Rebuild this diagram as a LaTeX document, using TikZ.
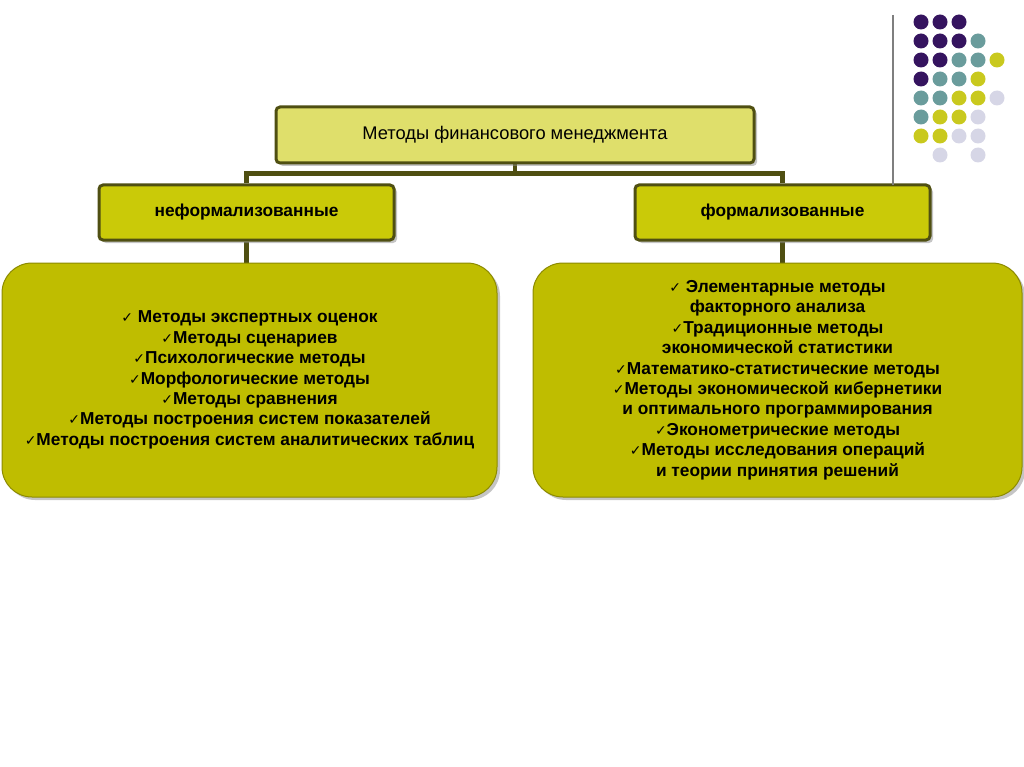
\documentclass[tikz,border=0pt]{standalone}
\usepackage{fontspec}
\setmainfont{Liberation Sans}
\newfontfamily\symfont{DejaVu Sans}
\usepackage{tikz}
\usetikzlibrary{backgrounds,shadows}
\definecolor{topfill}{HTML}{DFDF6B}
\definecolor{subfill}{HTML}{CACA08}
\definecolor{bigfill}{HTML}{BFBD00}
\definecolor{edge}{HTML}{4F4F12}
\definecolor{bigedge}{HTML}{8C8A00}
\definecolor{rulegray}{HTML}{7F7F7F}
\definecolor{dotp}{HTML}{35145F}
\definecolor{dott}{HTML}{6A9C9C}
\definecolor{doty}{HTML}{C9C91E}
\definecolor{dotl}{HTML}{D6D6E6}
\newcommand\chk{{\symfont\mdseries\fontsize{14}{12}\selectfont ✓}}

\begin{document}
\begin{tikzpicture}[x=1pt,y=-1pt]
  \tikzstyle{shade} = [drop shadow={shadow xshift=3pt,shadow yshift=-3pt,fill=black!45}]
  \tikzstyle{headbox} = [shade,draw=edge,line width=3pt,rounded corners=4pt,inner sep=0pt]
  \tikzstyle{listbox} = [shade,draw=bigedge,line width=1pt,fill=bigfill,rounded corners=30pt,
    minimum height=234pt,align=center,font=\bfseries\fontsize{17.3}{20.4}\selectfont]
  \tikzstyle{conn} = [edge,line width=4.5pt]
  %
  \useasboundingbox (0,0) rectangle (1024,767);
  % Title and the two kinds.
  \node[headbox,fill=topfill,minimum width=478pt,minimum height=56pt,
    font=\fontsize{18.3}{20}\selectfont] (methods) at (515,135) {Методы финансового менеджмента};
  \node[headbox,fill=subfill,minimum width=295pt,minimum height=55pt,
    font=\bfseries\fontsize{17.3}{20}\selectfont] (informal) at (246.5,212.5) {неформализованные};
  \node[headbox,fill=subfill,minimum width=295pt,minimum height=55pt,
    font=\bfseries\fontsize{17.3}{20}\selectfont] (formal) at (782.5,212.5) {формализованные};
  % Lists of methods.
  \node[listbox,minimum width=495pt] (informallist) at (249.5,380) {%
    \chk\ Методы экспертных оценок\\
    \chk Методы сценариев\\
    \chk Психологические методы\\
    \chk Морфологические методы\\
    \chk Методы сравнения\\
    \chk Методы построения систем показателей\\
    \chk Методы построения систем аналитических таблиц};
  \node[listbox,minimum width=489pt] (formallist) at (777.5,380) {%
    \chk\ Элементарные методы\\
    факторного анализа\\
    \chk Традиционные методы\\
    экономической статистики\\
    \chk Математико-статистические методы\\
    \chk Методы экономической кибернетики\\
    и оптимального программирования\\
    \chk Эконометрические методы\\
    \chk Методы исследования операций\\
    и теории принятия решений};
  \begin{pgfonlayer}{background}
    % Draw lines.
    \draw[conn] (methods.south) -- ++(0,9) coordinate (fork);
    \draw[conn] (informal.north) |- (fork) -| (formal.north);
    \draw[conn] (informal.south) -- (informal.south |- informallist.north);
    \draw[conn] (formal.south) -- (formal.south |- formallist.north);
  \end{pgfonlayer}
  % Corner ornament.
  \draw[rulegray,line width=1.5pt] (893,15) -- (893,185);
  \foreach \c/\r/\col in {1/1/dotp,2/1/dotp,3/1/dotp,1/2/dotp,2/2/dotp,3/2/dotp,1/3/dotp,2/3/dotp,1/4/dotp,
    4/2/dott,3/3/dott,4/3/dott,2/4/dott,3/4/dott,1/5/dott,2/5/dott,1/6/dott,
    5/3/doty,4/4/doty,3/5/doty,4/5/doty,2/6/doty,3/6/doty,1/7/doty,2/7/doty,
    5/5/dotl,4/6/dotl,3/7/dotl,4/7/dotl,2/8/dotl,4/8/dotl}
    \fill[\col] (902+19*\c,3+19*\r) circle[radius=7.5pt];
\end{tikzpicture}
\end{document}
